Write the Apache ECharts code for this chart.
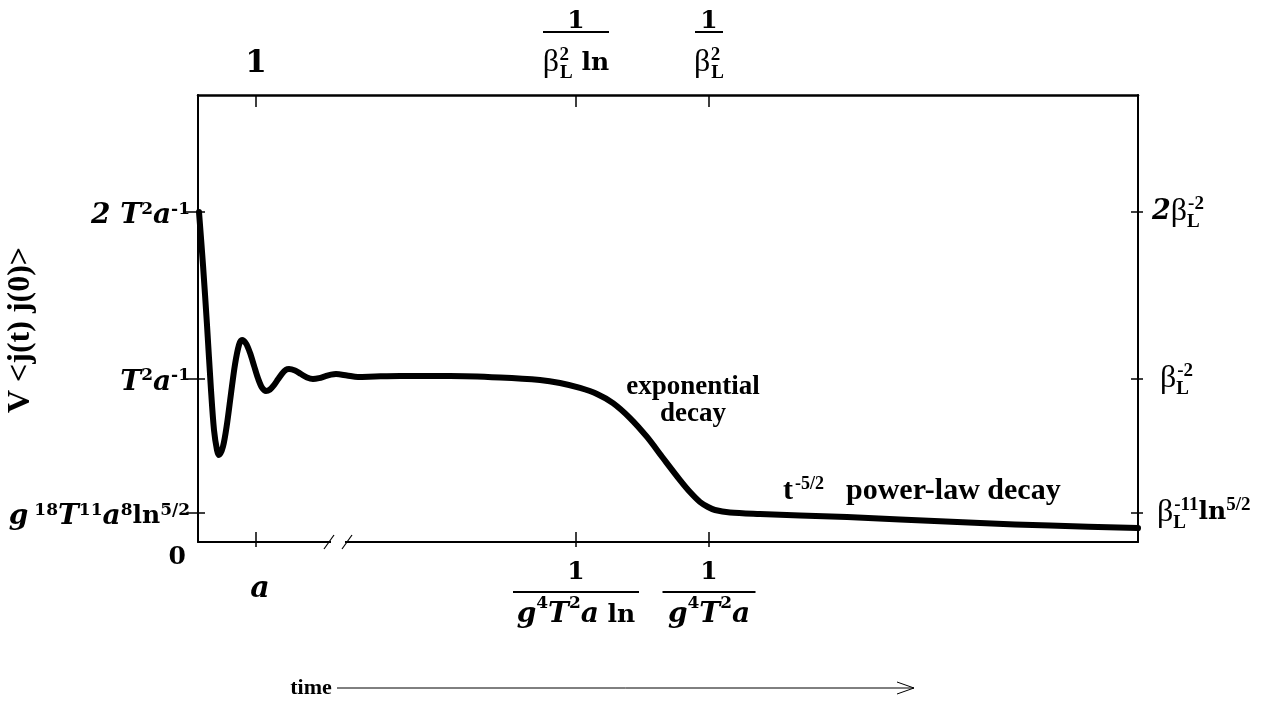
<!DOCTYPE html>
<html>
<head>
<meta charset="utf-8">
<script src="https://cdn.jsdelivr.net/npm/echarts@6/dist/echarts.min.js"></script>
<style>
  html, body { margin: 0; background: #fff; }
  #main { width: 1282px; height: 702px; }
</style>
</head>
<body>
<div id="main"></div>
<script>
// curve (time in plot units, correlation in units of T^2/a)
const timeData = [1, 5, 9, 13, 16, 19, 21, 25, 29, 33, 37, 41, 44, 48, 52, 56, 60, 64, 68, 72, 76, 80, 84, 88, 91, 97, 103, 109, 115, 121, 127, 133, 138, 149, 160, 177, 202, 252, 302, 342, 362, 382, 399, 415, 432, 449, 465, 482, 492, 502, 510, 517, 532, 562, 602, 649, 702, 782, 852, 940];
const corrData = [1.988, 1.669, 1.307, 0.916, 0.675, 0.554, 0.524, 0.575, 0.711, 0.894, 1.07, 1.188, 1.217, 1.196, 1.14, 1.063, 0.986, 0.93, 0.91, 0.919, 0.945, 0.98, 1.014, 1.037, 1.042, 1.033, 1.012, 0.991, 0.982, 0.987, 0.998, 1.008, 1.012, 1.003, 0.994, 0.997, 1.0, 1.0, 0.991, 0.976, 0.958, 0.928, 0.892, 0.837, 0.747, 0.633, 0.506, 0.373, 0.301, 0.241, 0.211, 0.193, 0.178, 0.169, 0.16, 0.151, 0.136, 0.114, 0.099, 0.084];

// tick positions
const xTickValues = [58, 378, 511];
const yTickValues = [0.175, 0.985, 1.99];

// tick labels (rich text)
const xBottomLabels = [
  '{pa|a}',
  '{nB|1}\n{barL| }\n{bd|g}{sup|4}{bd|T}{sup|2}{bd|a}{lnD| ln}',
  '{nB|1}\n{barM| }\n{bd|g}{sup|4}{bd|T}{sup|2}{bd|a}'
];
const xTopLabels = [
  '{b1|1}',
  '{nT|1}\n{barS| }\n{sp| }\n{beta|β}{rsupz|  2}{rsub|L}{lnD| ln}',
  '{nT|1}\n{barT| }\n{sp| }\n{beta|β}{rsupz|  2}{rsub|L}'
];
const yLeftLabels = [
  '{bi|g}{sup| 18}{bi|T}{sup|11}{bi|a}{sup|8}{b|ln}{sup|5/2}',
  '{bi|T}{sup|2}{bi|a}{sup|-1}',
  '{bi|2 T}{sup|2}{bi|a}{sup|-1}'
];
const yRightLabels = [
  '{betaQ|β}{rsubz|L}{rsup|-11}{lnR|ln}{rsup|5/2}',
  '{betaP|β}{rsubz|L}{rsup|-2}',
  '{bi2|2}{beta|β}{rsubz|L}{rsup|-2}'
];

const serif = "'Liberation Serif', 'Times New Roman', serif";
const dv = "'DejaVu Serif', serif";
const rich = {
  // left / bottom math labels
  bi: { fontFamily: dv, fontWeight: 'bold', fontStyle: 'italic', fontSize: 28, lineHeight: 30, color: '#000' },
  b: { fontFamily: dv, fontWeight: 'bold', fontSize: 25, lineHeight: 30, color: '#000' },
  sup: { fontFamily: dv, fontWeight: 'bold', fontSize: 17, verticalAlign: 'top', color: '#000' },
  bd: { fontFamily: dv, fontWeight: 'bold', fontStyle: 'italic', fontSize: 28, lineHeight: 40, color: '#000' },
  lnD: { fontFamily: dv, fontWeight: 'bold', fontSize: 25, lineHeight: 40, color: '#000' },
  nB: { fontFamily: dv, fontWeight: 'bold', fontSize: 25, lineHeight: 34, color: '#000' },
  nT: { fontFamily: dv, fontWeight: 'bold', fontSize: 25, lineHeight: 15, color: '#000' },
  b1: { fontFamily: dv, fontWeight: 'bold', fontSize: 31, lineHeight: 38, color: '#000' },
  pa: { fontFamily: dv, fontWeight: 'bold', fontStyle: 'italic', fontSize: 30, lineHeight: 36, color: '#000', padding: [32, 0, 0, 8] },
  zero: { fontFamily: dv, fontWeight: 'bold', fontSize: 25, color: '#000', padding: [22, 4, 0, 0] },
  // beta labels
  beta: { fontFamily: serif, fontSize: 32, lineHeight: 40, color: '#000' },
  betaP: { fontFamily: serif, fontSize: 32, lineHeight: 40, color: '#000', padding: [0, 0, 0, 8] },
  betaQ: { fontFamily: serif, fontSize: 32, lineHeight: 40, color: '#000', padding: [0, 0, 0, 5] },
  bi2: { fontFamily: dv, fontWeight: 'bold', fontStyle: 'italic', fontSize: 27, lineHeight: 40, color: '#000' },
  lnR: { fontFamily: dv, fontWeight: 'bold', fontSize: 25, lineHeight: 40, color: '#000' },
  rsup: { fontFamily: serif, fontWeight: 'bold', fontSize: 19, verticalAlign: 'top', color: '#000', padding: [3, 0, 0, 0] },
  rsupz: { fontFamily: serif, fontWeight: 'bold', fontSize: 19, verticalAlign: 'top', width: 1, color: '#000', padding: [3, 0, 0, 0] },
  rsub: { fontFamily: serif, fontWeight: 'bold', fontSize: 19, verticalAlign: 'bottom', color: '#000' },
  rsubz: { fontFamily: serif, fontWeight: 'bold', fontSize: 19, verticalAlign: 'bottom', width: 1, color: '#000' },
  // fraction bars and spacer
  barL: { width: 126, height: 2, lineHeight: 6, fontSize: 2, backgroundColor: '#000' },
  barM: { width: 93, height: 2, lineHeight: 6, fontSize: 2, backgroundColor: '#000' },
  barS: { width: 66, height: 2, lineHeight: 6, fontSize: 2, backgroundColor: '#000' },
  barT: { width: 28, height: 2, lineHeight: 6, fontSize: 2, backgroundColor: '#000' },
  sp: { fontSize: 2, lineHeight: 8 }
};

const pick = (values, labels) => (v) => {
  const i = values.indexOf(v);
  return i < 0 ? '' : labels[i];
};

const X_MAX = 940;
const Y_MAX = 2.693;
const line = { show: true, onZero: false, lineStyle: { color: '#000', width: 2 } };
const noLine = { show: false, onZero: false };
const tickStyle = { color: '#000', width: 1.5 };

const chart = echarts.init(document.getElementById('main'));

const option = {
  animation: false,
  backgroundColor: '#fff',
  grid: { left: 198, right: 144, top: 95, bottom: 160, containLabel: false, outerBoundsMode: 'none' },
  xAxis: [
    {
      type: 'value', position: 'bottom', min: 0, max: X_MAX,
      axisLine: line,
      axisTick: { show: true, length: 5, lineStyle: tickStyle, customValues: xTickValues },
      axisLabel: { show: true, margin: 13, customValues: xTickValues, formatter: pick(xTickValues, xBottomLabels), rich: rich },
      splitLine: { show: false }
    },
    {
      type: 'value', position: 'bottom', min: 0, max: X_MAX,
      axisLine: noLine,
      axisTick: { show: true, inside: true, length: 10, lineStyle: tickStyle, customValues: xTickValues },
      axisLabel: { show: false },
      splitLine: { show: false }
    },
    {
      type: 'value', position: 'top', min: 0, max: X_MAX,
      axisLine: { show: true, onZero: false, lineStyle: { color: '#000', width: 2.5 } },
      axisTick: { show: true, inside: true, length: 12, lineStyle: tickStyle, customValues: xTickValues },
      axisLabel: { show: true, margin: 12, customValues: xTickValues, formatter: pick(xTickValues, xTopLabels), rich: rich },
      splitLine: { show: false }
    }
  ],
  yAxis: [
    {
      type: 'value', position: 'left', min: 0, max: Y_MAX,
      name: 'V <j(t) j(0)>',
      nameLocation: 'middle', nameGap: 161, nameRotate: 90, nameMoveOverlap: false,
      nameTextStyle: { fontFamily: serif, fontWeight: 'bold', fontSize: 32, color: '#000', padding: [0, 23, 0, 0] },
      axisLine: line,
      axisTick: { show: true, length: 12, lineStyle: tickStyle, customValues: yTickValues },
      axisLabel: {
        show: true, margin: 8, padding: [8, 0, 0, 0], customValues: [0].concat(yTickValues),
        formatter: (v) => v === 0 ? '{zero|0}' : pick(yTickValues, yLeftLabels)(v),
        rich: rich
      },
      splitLine: { show: false }
    },
    {
      type: 'value', position: 'left', min: 0, max: Y_MAX,
      axisLine: noLine,
      axisTick: { show: true, inside: true, length: 7, lineStyle: tickStyle, customValues: yTickValues },
      axisLabel: { show: false },
      splitLine: { show: false }
    },
    {
      type: 'value', position: 'right', min: 0, max: Y_MAX,
      axisLine: line,
      axisTick: { show: true, length: 5, lineStyle: tickStyle, customValues: yTickValues },
      axisLabel: { show: true, margin: 14, customValues: yTickValues, formatter: pick(yTickValues, yRightLabels), rich: rich },
      splitLine: { show: false }
    },
    {
      type: 'value', position: 'right', min: 0, max: Y_MAX,
      axisLine: noLine,
      axisTick: { show: true, inside: true, length: 7, lineStyle: tickStyle, customValues: yTickValues },
      axisLabel: { show: false },
      splitLine: { show: false }
    }
  ],
  series: [
    {
      type: 'line',
      xAxisIndex: 0,
      yAxisIndex: 0,
      data: timeData.map((t, i) => [t, corrData[i]]),
      smooth: 0.3,
      showSymbol: false,
      symbol: 'none',
      lineStyle: { color: '#000', width: 6, cap: 'round', join: 'round' },
      z: 5
    }
  ]
};

chart.setOption(option);

// annotations and axis break, placed from data coordinates
const px = (x, y) => chart.convertToPixel({ gridIndex: 0 }, [x, y]);
const b1 = px(131, 0);
const b2 = px(149, 0);
const exp = px(495, 0.85);
const pl = px(585, 0.307);

chart.setOption({
  graphic: [
    { type: 'rect', shape: { x: b1[0] + 2, y: b1[1] - 4, width: b2[0] - b1[0] - 4, height: 8 }, style: { fill: '#fff' }, z: 10 },
    { type: 'line', shape: { x1: b1[0] - 5, y1: b1[1] + 7, x2: b1[0] + 5, y2: b1[1] - 7 }, style: { stroke: '#000', lineWidth: 1.2 }, z: 11 },
    { type: 'line', shape: { x1: b2[0] - 5, y1: b2[1] + 7, x2: b2[0] + 5, y2: b2[1] - 7 }, style: { stroke: '#000', lineWidth: 1.2 }, z: 11 },
    {
      type: 'text', x: exp[0], y: exp[1], z: 12,
      style: { text: 'exponential\ndecay', fontFamily: serif, fontWeight: 'bold', fontSize: 27, lineHeight: 27, fill: '#000', align: 'center', verticalAlign: 'middle' }
    },
    {
      type: 'text', x: pl[0], y: pl[1], z: 12,
      style: {
        text: '{t|t}{s|-5/2}{t|  power-law decay}',
        align: 'left', verticalAlign: 'middle',
        rich: {
          t: { fontFamily: serif, fontWeight: 'bold', fontSize: 30, lineHeight: 32, fill: '#000' },
          s: { fontFamily: serif, fontWeight: 'bold', fontSize: 18, verticalAlign: 'top', fill: '#000', padding: [0, 7, 0, 2] }
        }
      }
    },
    {
      type: 'text', x: 311, y: 688, z: 12,
      style: { text: 'time', fontFamily: serif, fontWeight: 'bold', fontSize: 22, fill: '#000', align: 'center', verticalAlign: 'middle' }
    },
    { type: 'line', shape: { x1: 337, y1: 688, x2: 914, y2: 688 }, style: { stroke: '#000', lineWidth: 1 }, z: 12 },
    { type: 'polyline', shape: { points: [[897, 682], [914, 688], [897, 694]] }, style: { stroke: '#000', lineWidth: 1, fill: null }, z: 12 }
  ]
});
</script>
</body>
</html>
